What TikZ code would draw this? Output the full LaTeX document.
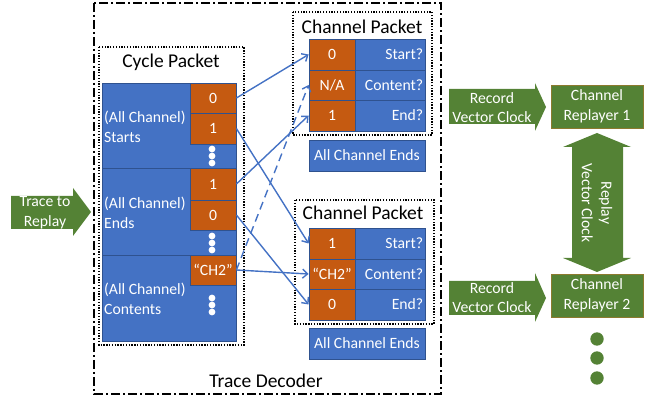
\documentclass[tikz,border=0pt]{standalone}
\usepackage{fontspec}
\setmainfont{Carlito}
\usetikzlibrary{arrows.meta}
\definecolor{oblue}{HTML}{4472C4}
\definecolor{oorange}{HTML}{C55A11}
\definecolor{ogreen}{HTML}{548235}
\definecolor{oedge}{HTML}{2F528F}
\definecolor{gedge}{HTML}{8C7A2E}
\begin{document}
\begin{tikzpicture}[x=1pt,y=-1pt,
  txt/.style={font=\fontsize{15.7}{19.5}\selectfont, text=white, inner sep=0pt},
  ttl/.style={font=\fontsize{19.5}{23}\selectfont, inner sep=0pt, text=black},
  bcell/.style={fill=oblue, draw=oedge, line width=0.8pt, inner sep=0pt},
  ocell/.style={fill=oorange, draw=oedge, line width=0.8pt, inner sep=0pt, text=white,
                font=\fontsize{15.7}{19.5}\selectfont, minimum width=46pt},
  pcell/.style={bcell, minimum width=70pt},
  dotbox/.style={draw=black, line width=1.3pt, dash pattern=on 1.3pt off 1.5pt},
  ddbox/.style={draw=black, line width=1.5pt, dash pattern=on 9pt off 3pt on 2pt off 3pt},
  conn/.style={draw=oblue, line width=1.4pt, -{Straight Barb[length=5pt,width=9pt,line width=1.4pt]}},
  gshape/.style={fill=ogreen},
  wdot/.style={fill=white, draw=none},
]
\useasboundingbox (0,0) rectangle (649,398);

% ---------- Trace Decoder outer box ----------
\draw[ddbox] (94,3) rectangle (441,394);
\node[ttl] (tdlabel) at (266,381) {Trace Decoder};

% ---------- Cycle Packet ----------
\draw[dotbox] (99,47) rectangle (244,345);
\node[ttl] (cptitle) at (171,62) {Cycle Packet};

\draw[bcell] (102,83) rectangle (236,168);
\draw[bcell] (102,168) rectangle (236,255);
\draw[bcell] (102,255) rectangle (236,341);

\node[ocell, minimum height=30pt] (s0) at (213,98) {0};
\node[ocell, minimum height=31pt] (s1) at (213,128.5) {1};
\node[ocell, minimum height=32pt] (e1) at (213,184) {1};
\node[ocell, minimum height=30pt] (e0) at (213,215) {0};
\node[ocell, minimum height=30pt] (ch) at (213,270) {“CH2”};

\foreach \yy in {149,156,163, 236,243,250, 298,305,312}
  \fill[wdot] (212,\yy) circle (3.4);

\node[txt, anchor=west, align=left] (lstarts) at (104,127) {(All Channel)\\Starts};
\node[txt, anchor=west, align=left] (lends) at (104,213) {(All Channel)\\Ends};
\node[txt, anchor=west, align=left] (lcont) at (104,299) {(All Channel)\\Contents};

% ---------- Channel Packet 1 ----------
\draw[dotbox] (293,12) rectangle (432,135);
\node[ttl] (c1title) at (362,27) {Channel Packet};
\node[ocell, minimum height=31pt] (c1r0) at (332,54.5) {0};
\node[ocell, minimum height=30pt] (c1r1) at (332,85) {N/A};
\node[ocell, minimum height=31pt] (c1r2) at (332,115.5) {1};
\node[pcell, minimum height=31pt] (c1b0) at (390,54.5) {};
\node[pcell, minimum height=30pt] (c1b1) at (390,85) {};
\node[pcell, minimum height=31pt] (c1b2) at (390,115.5) {};
\node[txt, anchor=east] at (c1b0.east) [xshift=-2pt] {Start?};
\node[txt, anchor=east] at (c1b1.east) [xshift=-2pt] {Content?};
\node[txt, anchor=east] at (c1b2.east) [xshift=-2pt] {End?};
\node[bcell, txt, minimum width=116pt, minimum height=31pt] (ae1) at (367,155.5) {All Channel Ends};

% ---------- Channel Packet 2 ----------
\draw[dotbox] (295,200) rectangle (434,324);
\node[ttl] (c2title) at (363,213) {Channel Packet};
\node[ocell, minimum height=31pt] (c2r0) at (332,243.5) {1};
\node[ocell, minimum height=30pt] (c2r1) at (332,274) {“CH2”};
\node[ocell, minimum height=31pt] (c2r2) at (332,304.5) {0};
\node[pcell, minimum height=31pt] (c2b0) at (390,243.5) {};
\node[pcell, minimum height=30pt] (c2b1) at (390,274) {};
\node[pcell, minimum height=31pt] (c2b2) at (390,304.5) {};
\node[txt, anchor=east] at (c2b0.east) [xshift=-2pt] {Start?};
\node[txt, anchor=east] at (c2b1.east) [xshift=-2pt] {Content?};
\node[txt, anchor=east] at (c2b2.east) [xshift=-2pt] {End?};
\node[bcell, txt, minimum width=116pt, minimum height=31pt] (ae2) at (367,343.5) {All Channel Ends};

% ---------- Connectors ----------
\draw[conn] (s0.east) -- (c1r0.west);
\draw[conn] (s1.east) -- (c2r0.west);
\draw[conn] (e1.east) -- (c1r2.west);
\draw[conn] (e0.east) -- (c2r2.west);
\draw[conn, dash pattern=on 8pt off 5pt] (ch.east) -- (c1r1.west);
\draw[conn] (ch.east) -- (c2r1.west);

% ---------- Green block arrows ----------
\fill[gshape] (11,196) -- (73,196) -- (73,188) -- (91,212) -- (73,236) -- (73,229) -- (11,229) -- cycle;
\node[txt, align=center] (trace) at (45,212.5) {Trace to\\Replay};

\fill[gshape] (449,89) -- (535,89) -- (535,83) -- (546,107) -- (535,131) -- (535,124) -- (449,124) -- cycle;
\node[txt, align=center] (rvc1) at (492,107.5) {Record\\Vector Clock};

\fill[gshape] (449,281) -- (535,281) -- (535,273) -- (546,298) -- (535,322) -- (535,315) -- (449,315) -- cycle;
\node[txt, align=center] (rvc2) at (492,297.5) {Record\\Vector Clock};

\node[fill=ogreen, draw=gedge, line width=0.8pt, txt, align=center, minimum width=92pt, minimum height=43pt] (cr1) at (597,106.5) {Channel\\Replayer 1};
\node[fill=ogreen, draw=gedge, line width=0.8pt, txt, align=center, minimum width=92pt, minimum height=43pt] (cr2) at (597,295.5) {Channel\\Replayer 2};

% double arrow
\fill[gshape] (597,133) -- (631,147) -- (623,147) -- (623,258) -- (631,258) -- (597,272)
  -- (563,258) -- (572,258) -- (572,147) -- (563,147) -- cycle;
\node[txt, align=center, rotate=-90] (rpvc) at (597,203) {Replay\\Vector Clock};

\foreach \yy in {339,358,378}
  \fill[ogreen] (597,\yy) circle (6.7);
\end{tikzpicture}
\end{document}
